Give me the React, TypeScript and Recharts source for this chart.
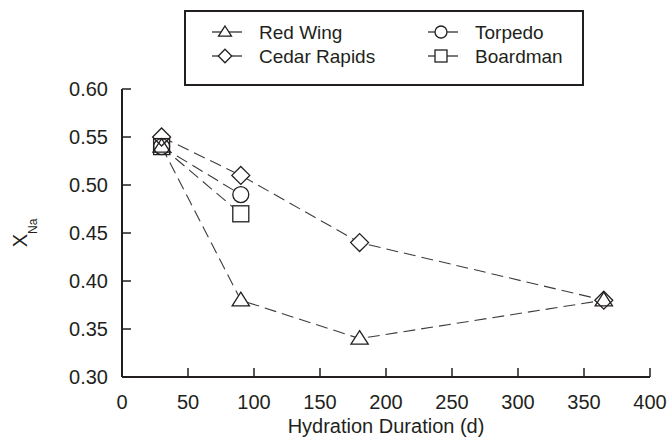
import React from 'react';
import { ComposedChart, Line, Scatter, XAxis, YAxis, Customized } from 'recharts';

const days = [30, 90, 180, 365];
const redWing = [0.54, 0.38, 0.34, 0.38];
const cedarRapids = [0.55, 0.51, 0.44, 0.38];
const shortDays = [30, 90];
const torpedo = [0.54, 0.49];
const boardman = [0.54, 0.47];

const xTicks = [0, 50, 100, 150, 200, 250, 300, 350, 400];
const yTicks = [0.3, 0.35, 0.4, 0.45, 0.5, 0.55, 0.6];

const FONT = '"Liberation Sans", Arial, Helvetica, sans-serif';
const INK = '#231f20';
const LINE = '#3c3c3c';

type Shape = 'triangle' | 'diamond' | 'circle' | 'square';

const toPts = (xs: number[], ys: number[]) => xs.map((x, i) => ({ x, y: ys[i] }));

const series: { name: string; shape: Shape; data: { x: number; y: number }[] }[] = [
  { name: 'Red Wing', shape: 'triangle', data: toPts(days, redWing) },
  { name: 'Cedar Rapids', shape: 'diamond', data: toPts(days, cedarRapids) },
  { name: 'Torpedo', shape: 'circle', data: toPts(shortDays, torpedo) },
  { name: 'Boardman', shape: 'square', data: toPts(shortDays, boardman) },
];

function marker(shape: Shape, cx: number, cy: number, s: number, fill: string, stroke: string) {
  const common = { fill, stroke, strokeWidth: 1.3 };
  if (shape === 'circle') return <circle cx={cx} cy={cy} r={s / 2} {...common} />;
  if (shape === 'square') return <rect x={cx - s / 2} y={cy - s / 2} width={s} height={s} {...common} />;
  if (shape === 'diamond') {
    const h = s * 0.56;
    return <polygon points={`${cx},${cy - h} ${cx + h},${cy} ${cx},${cy + h} ${cx - h},${cy}`} {...common} />;
  }
  const w = s * 0.54;
  return (
    <polygon
      points={`${cx},${cy - s * 0.5} ${cx + w},${cy + s * 0.35} ${cx - w},${cy + s * 0.35}`}
      {...common}
    />
  );
}

const makeShape = (shape: Shape, fill: string, stroke: string) => (props: any) => {
  const { cx, cy } = props;
  if (cx == null || cy == null) return <g />;
  return marker(shape, cx, cy, 16, fill, stroke);
};

const YTick = (props: any) => {
  const { x, y, payload } = props;
  const ax = x + 14;
  return (
    <g>
      <line x1={ax} x2={ax + 9} y1={y} y2={y} stroke={INK} strokeWidth={1.5} />
      <text x={x} y={y} dy="0.36em" textAnchor="end" fontSize={20} fontFamily={FONT} fill={INK}>
        {Number(payload.value).toFixed(2)}
      </text>
    </g>
  );
};

const XTick = (props: any) => {
  const { x, y, payload } = props;
  const ay = y - 25;
  return (
    <g>
      <line x1={x} x2={x} y1={ay} y2={ay - 9} stroke={INK} strokeWidth={1.5} />
      <text x={x} y={y} dy="0.36em" textAnchor="middle" fontSize={20} fontFamily={FONT} fill={INK}>
        {payload.value}
      </text>
    </g>
  );
};

const XLabel = (props: any) => {
  const vb = props.viewBox || {};
  const cx = vb.x + vb.width / 2;
  return (
    <text x={cx} y={vb.y + 56} textAnchor="middle" fontSize={20} fontFamily={FONT} fill={INK}>
      Hydration Duration (d)
    </text>
  );
};

const YLabel = (props: any) => {
  const vb = props.viewBox || {};
  const cy = vb.y + vb.height / 2;
  const bx = 27;
  return (
    <text
      x={bx}
      y={cy}
      transform={`rotate(-90, ${bx}, ${cy})`}
      textAnchor="middle"
      fontSize={20}
      fontFamily={FONT}
      fill={INK}
    >
      X
      <tspan fontSize={12} dy={10}>
        Na
      </tspan>
    </text>
  );
};

const LegendBox = () => {
  const cols = [212, 428];
  const rows = [32, 56];
  const order = [0, 2, 1, 3];
  return (
    <g>
      <rect x={185} y={11} width={398} height={74} fill="#fff" stroke={INK} strokeWidth={2} />
      {order.map((si, k) => {
        const s = series[si];
        const col = cols[k % 2];
        const row = rows[Math.floor(k / 2)];
        const mx = col + 13;
        return (
          <g key={s.name}>
            <line x1={col} x2={col + 30} y1={row} y2={row} stroke={INK} strokeWidth={1.2} />
            {marker(s.shape, mx, row, 12, '#fff', INK)}
            <text x={col + 47} y={row} dy="0.36em" fontSize={19} fontFamily={FONT} fill={INK}>
              {s.name}
            </text>
          </g>
        );
      })}
    </g>
  );
};

export default function App() {
  return (
    <div style={{ position: 'absolute', left: 0, top: 0, width: 668, height: 444, background: '#fff' }}>
      <ComposedChart width={668} height={444} margin={{ top: 89, right: 18, bottom: 7, left: 62 }}>
        <XAxis
          xAxisId="b"
          dataKey="x"
          type="number"
          domain={[0, 400]}
          ticks={xTicks}
          allowDataOverflow
          height={60}
          tickSize={0}
          tickMargin={25}
          tickLine={false}
          tick={<XTick />}
          axisLine={{ stroke: INK, strokeWidth: 2 }}
          label={<XLabel />}
        />
        <XAxis
          xAxisId="t"
          orientation="top"
          type="number"
          domain={[0, 400]}
          height={0}
          tick={false}
          tickLine={false}
          axisLine={{ stroke: INK, strokeWidth: 2 }}
        />
        <YAxis
          yAxisId="l"
          type="number"
          domain={[0.3, 0.6]}
          ticks={yTicks}
          allowDataOverflow
          width={60}
          tickSize={0}
          tickMargin={14}
          tickLine={false}
          tick={<YTick />}
          axisLine={{ stroke: INK, strokeWidth: 2 }}
          label={<YLabel />}
        />
        <YAxis
          yAxisId="r"
          orientation="right"
          type="number"
          domain={[0.3, 0.6]}
          width={0}
          tick={false}
          tickLine={false}
          axisLine={{ stroke: INK, strokeWidth: 2 }}
        />
        {series.map((s) => (
          <Line
            key={'l' + s.name}
            xAxisId="b"
            yAxisId="l"
            data={s.data}
            dataKey="y"
            type="linear"
            stroke={LINE}
            strokeWidth={1.1}
            strokeDasharray="12 6"
            dot={false}
            activeDot={false}
            legendType="none"
            isAnimationActive={false}
          />
        ))}
        {series.map((s) => (
          <Scatter
            key={'f' + s.name}
            xAxisId="b"
            yAxisId="l"
            data={s.data}
            dataKey="y"
            shape={makeShape(s.shape, '#fff', 'none')}
            isAnimationActive={false}
          />
        ))}
        {series.map((s) => (
          <Scatter
            key={'o' + s.name}
            xAxisId="b"
            yAxisId="l"
            data={s.data}
            dataKey="y"
            shape={makeShape(s.shape, 'none', INK)}
            isAnimationActive={false}
          />
        ))}
        <Customized component={LegendBox} />
      </ComposedChart>
    </div>
  );
}
